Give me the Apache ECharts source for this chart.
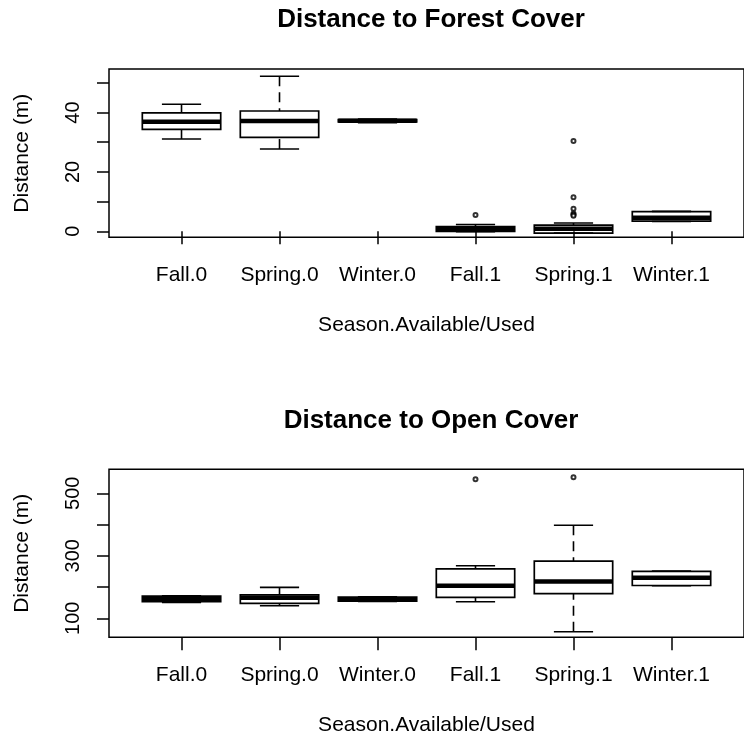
<!DOCTYPE html>
<html>
<head>
<meta charset="utf-8">
<script src="https://cdn.jsdelivr.net/npm/echarts@6/dist/echarts.min.js"></script>
<style>
html, body { margin: 0; padding: 0; background: #fff; }
#main { width: 744px; height: 740px; }
</style>
</head>
<body>
<div id="main"></div>
<script>
// 数据
var categories = ['Fall.0', 'Spring.0', 'Winter.0', 'Fall.1', 'Spring.1', 'Winter.1'];

// [位置, 下须, Q1, 中位数, Q3, 上须]
var forestStats = [
  [1, 31.1, 34.3, 36.9, 39.9, 42.8],
  [2, 27.7, 31.6, 37.1, 40.5, 52.2],
  [3, 36.6, 36.8, 37.2, 37.6, 37.8],
  [4, -0.1, 0.0, 0.7, 1.6, 2.3],
  [5, -0.6, -0.6, 0.9, 2.1, 2.8],
  [6, 3.3, 3.4, 4.6, 6.6, 6.7]
];
var forestOutliers = [[4, 5.5], [5, 30.4], [5, 11.5], [5, 7.6], [5, 6.0], [5, 5.6], [5, 5.2]];

var openStats = [
  [1, 151, 153, 162, 171, 172],
  [2, 140, 148, 166, 175, 199],
  [3, 154, 155, 161, 168, 169],
  [4, 153, 167, 204, 258, 268],
  [5, 57, 179, 218, 283, 398],
  [6, 204, 205, 230, 250, 251]
];
var openOutliers = [[4, 545], [5, 551]];

var forestTicks = [0, 10, 20, 30, 40, 50];
var forestLabels = [0, 20, 40];
var openTicks = [100, 200, 300, 400, 500];
var openLabels = [100, 300, 500];
var xTicks = [1, 2, 3, 4, 5, 6];

var FONT = 'Liberation Sans, Arial, sans-serif';

// 初始化echart实例对象
var myChart = echarts.init(document.getElementById('main'));

// R风格箱线图
function renderBox(params, api) {
  var x = api.value(0);
  var lo = api.value(1), q1 = api.value(2), md = api.value(3), q3 = api.value(4), hi = api.value(5);
  var c = function (xx, yy) { return api.coord([xx, yy]); };
  var boxL = c(x - 0.4, q3), boxR = c(x + 0.4, q1);
  var line = function (a, b, extra) {
    var st = { stroke: '#000', lineWidth: 1.6 };
    for (var k in extra) st[k] = extra[k];
    return { type: 'line', shape: { x1: a[0], y1: a[1], x2: b[0], y2: b[1] }, style: st };
  };
  return {
    type: 'group',
    children: [
      line(c(x, hi), c(x, q3), { lineDash: [10, 6] }),
      line(c(x, lo), c(x, q1), { lineDash: [10, 6] }),
      line(c(x - 0.2, hi), c(x + 0.2, hi)),
      line(c(x - 0.2, lo), c(x + 0.2, lo)),
      {
        type: 'rect',
        shape: { x: boxL[0], y: boxL[1], width: boxR[0] - boxL[0], height: boxR[1] - boxL[1] },
        style: { fill: null, stroke: '#000', lineWidth: 1.7 }
      },
      line(c(x - 0.4, md), c(x + 0.4, md), { lineWidth: 4.5 })
    ]
  };
}

function xAxisOf(idx) {
  return {
    type: 'value', gridIndex: idx, min: 0.26, max: 6.74,
    name: 'Season.Available/Used', nameLocation: 'middle', nameGap: 77,
    nameTextStyle: { color: '#000', fontSize: 21, fontFamily: FONT },
    axisLine: { show: false },
    splitLine: { show: false },
    axisTick: { show: true, length: 13, customValues: xTicks, lineStyle: { color: '#000', width: 1.5 } },
    axisLabel: {
      customValues: xTicks, margin: 27, color: '#000', fontSize: 21, fontFamily: FONT,
      formatter: function (v) { return categories[Math.round(v) - 1]; }
    }
  };
}

function yAxisOf(idx, min, max, ticks, labels) {
  return {
    type: 'value', gridIndex: idx, min: min, max: max,
    name: 'Distance (m)', nameLocation: 'middle', nameGap: 76, nameRotate: 90,
    nameTextStyle: { color: '#000', fontSize: 21, fontFamily: FONT },
    axisLine: { show: false },
    splitLine: { show: false },
    axisTick: { show: true, length: 12, customValues: ticks, lineStyle: { color: '#000', width: 1.5 } },
    axisLabel: { customValues: labels, rotate: 90, margin: 26, color: '#000', fontSize: 20, fontFamily: FONT }
  };
}

var option = {
  animation: false,
  backgroundColor: '#fff',
  title: [
    { text: 'Distance to Forest Cover', left: 431, top: 7, textAlign: 'center', padding: 0,
      textStyle: { fontSize: 26, fontWeight: 'bold', color: '#000', fontFamily: FONT } },
    { text: 'Distance to Open Cover', left: 431, top: 408, textAlign: 'center', padding: 0,
      textStyle: { fontSize: 26, fontWeight: 'bold', color: '#000', fontFamily: FONT } }
  ],
  grid: [
    { left: 109, top: 69, width: 643.5, height: 168.3, show: true, borderColor: '#000', borderWidth: 1.5, backgroundColor: 'transparent' },
    { left: 109, top: 469.3, width: 643.5, height: 168, show: true, borderColor: '#000', borderWidth: 1.5, backgroundColor: 'transparent' }
  ],
  xAxis: [xAxisOf(0), xAxisOf(1)],
  yAxis: [
    yAxisOf(0, -2.02, 54.65, forestTicks, forestLabels),
    yAxisOf(1, 39.2, 576.8, openTicks, openLabels)
  ],
  series: [
    { type: 'custom', xAxisIndex: 0, yAxisIndex: 0, renderItem: renderBox, data: forestStats },
    { type: 'scatter', xAxisIndex: 0, yAxisIndex: 0, symbol: 'emptyCircle', symbolSize: 4,
      itemStyle: { color: '#000', borderWidth: 1 }, data: forestOutliers },
    { type: 'custom', xAxisIndex: 1, yAxisIndex: 1, renderItem: renderBox, data: openStats },
    { type: 'scatter', xAxisIndex: 1, yAxisIndex: 1, symbol: 'emptyCircle', symbolSize: 4,
      itemStyle: { color: '#000', borderWidth: 1 }, data: openOutliers }
  ]
};

// 使用刚指定的配置项和数据显示图表。
myChart.setOption(option);
</script>
</body>
</html>
